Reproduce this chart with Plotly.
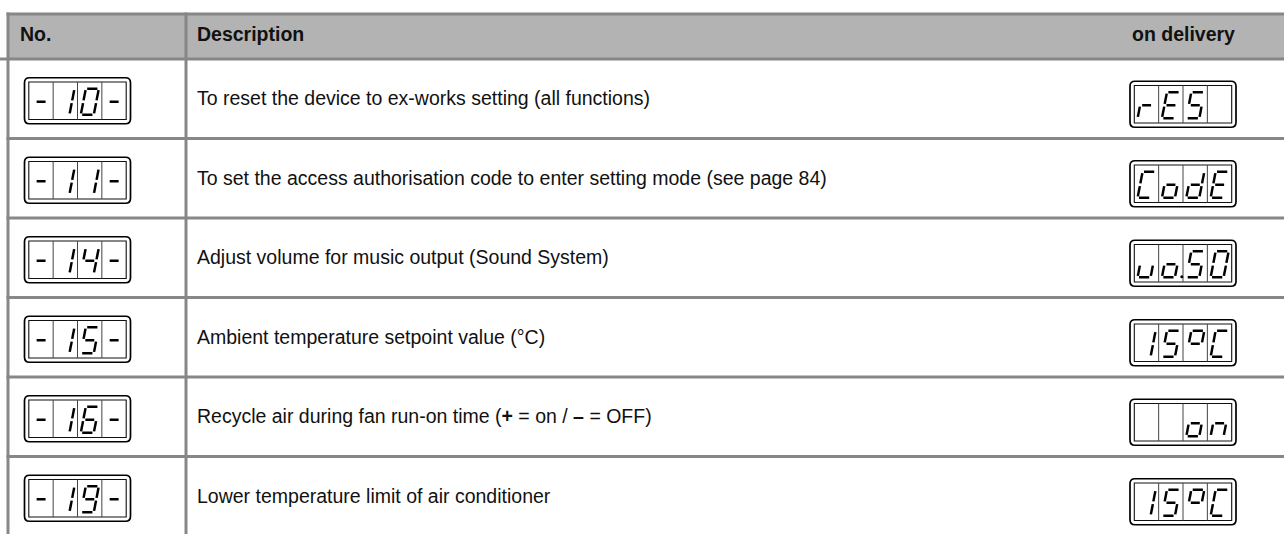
import plotly.graph_objects as go

W, H = 1284, 534

# ---------------- data ----------------
header_labels = ["No.", "Description", "on delivery"]
codes = ["-10-", "-11-", "-14-", "-15-", "-16-", "-19-"]
descriptions = [
    "To reset the device to ex-works setting (all functions)",
    "To set the access authorisation code to enter setting mode (see page 84)",
    "Adjust volume for music output (Sound System)",
    "Ambient temperature setpoint value (°C)",
    "Recycle air during fan run-on time (<b>+</b> = on / <b>–</b> = OFF)",
    "Lower temperature limit of air conditioner",
]
delivery = ["rES ", "CodE", "uo.50", "15°C", "  on", "15°C"]

SEGMENTS = {
    '0': 'abcdef', '1': 'bc', '4': 'bcfg', '5': 'acdfg', '6': 'acdefg', '9': 'abcdfg',
    '-': 'g', 'r': 'eg', 'E': 'adefg', 'S': 'acdfg', 'C': 'adef', 'o': 'cdeg',
    'd': 'bcdeg', 'u': 'cde', '°': 'abfg', 'n': 'ceg', ' ': '',
}

# ---------------- geometry ----------------
TABLE_LEFT = 8
COL_DIV = 186
HEADER_TOP = 14
HEADER_BOT = 59
ROW_H = 79.5
row_bounds = [HEADER_BOT + i * ROW_H for i in range(len(codes) + 1)]
GRID = "#878787"
TXT = "#111111"
FONT = "Liberation Sans, Arial, sans-serif"
FS = 19.5

shapes = []
annotations = []

shapes.append(dict(type="rect", x0=TABLE_LEFT, x1=W + 5, y0=HEADER_TOP, y1=HEADER_BOT,
                   fillcolor="#b3b3b3", line=dict(width=0), layer="below"))


def hline(y, x0, x1):
    shapes.append(dict(type="line", x0=x0, x1=x1, y0=y, y1=y, layer="below",
                       line=dict(color=GRID, width=3)))


def vline(x, y0, y1):
    shapes.append(dict(type="line", x0=x, x1=x, y0=y0, y1=y1, layer="below",
                       line=dict(color=GRID, width=3)))


hline(HEADER_TOP, TABLE_LEFT - 1.5, W + 5)
hline(HEADER_BOT, 0, W + 5)
for yb in row_bounds[1:-1]:
    hline(yb, TABLE_LEFT - 1.5, W + 5)
vline(TABLE_LEFT, HEADER_TOP - 1.5, H + 5)
vline(COL_DIV, HEADER_TOP - 1.5, H + 5)

hdr_y = 33.5
annotations.append(dict(x=18, y=hdr_y, text="<b>%s</b>" % header_labels[0], xanchor="left"))
annotations.append(dict(x=195, y=hdr_y, text="<b>%s</b>" % header_labels[1], xanchor="left"))
annotations.append(dict(x=1183.5, y=hdr_y, text="<b>%s</b>" % header_labels[2], xanchor="center"))

# ---------------- seven segment displays ----------------
seg_x, seg_y = [], []
dot_x, dot_y = [], []

DISP_W, DISP_H, RAD = 106, 46, 5
INSET = 4.3
DIG_H, DIG_W, SLANT, GAP = 26, 13, 5, 1.4


def seg_endpoints(name):
    return {
        'a': ((0, 1), (1, 1)), 'b': ((1, 1), (1, 0.5)), 'c': ((1, 0.5), (1, 0)),
        'd': ((0, 0), (1, 0)), 'e': ((0, 0), (0, 0.5)), 'f': ((0, 0.5), (0, 1)),
        'g': ((0, 0.5), (1, 0.5)),
    }[name]


def add_digit(ch, cell_left, y_bot):
    x0 = cell_left + 3.3
    for s in SEGMENTS.get(ch, ''):
        (u1, v1), (u2, v2) = seg_endpoints(s)
        px1 = x0 + u1 * DIG_W + v1 * SLANT
        py1 = y_bot - v1 * DIG_H
        px2 = x0 + u2 * DIG_W + v2 * SLANT
        py2 = y_bot - v2 * DIG_H
        dx, dy = px2 - px1, py2 - py1
        ln = (dx * dx + dy * dy) ** 0.5
        g = GAP * (1.45 if s == 'g' else 1.0)
        ux, uy = dx / ln, dy / ln
        seg_x.extend([px1 + ux * g, px2 - ux * g, None])
        seg_y.extend([py1 + uy * g, py2 - uy * g, None])


def parse_chars(text):
    chars = []
    for c in text:
        if c == '.' and chars:
            chars[-1] = (chars[-1][0], True)
        else:
            chars.append((c, False))
    return chars


def add_display(cx, cy, text):
    x0, x1 = cx - DISP_W / 2, cx + DISP_W / 2
    y0, y1 = cy - DISP_H / 2, cy + DISP_H / 2
    r = RAD
    path = (f"M {x0 + r},{y0} L {x1 - r},{y0} Q {x1},{y0} {x1},{y0 + r} "
            f"L {x1},{y1 - r} Q {x1},{y1} {x1 - r},{y1} L {x0 + r},{y1} "
            f"Q {x0},{y1} {x0},{y1 - r} L {x0},{y0 + r} Q {x0},{y0} {x0 + r},{y0} Z")
    shapes.append(dict(type="path", path=path, layer="below",
                       line=dict(color="#000", width=1.7), fillcolor="white"))
    ix0, ix1 = x0 + INSET, x1 - INSET
    iy0, iy1 = y0 + INSET, y1 - INSET
    shapes.append(dict(type="rect", x0=ix0, x1=ix1, y0=iy0, y1=iy1, layer="below",
                       line=dict(color="#111", width=1.1)))
    cw = (ix1 - ix0) / 4
    for k in range(1, 4):
        xx = ix0 + k * cw
        shapes.append(dict(type="line", x0=xx, x1=xx, y0=iy0, y1=iy1, layer="below",
                           line=dict(color="#444", width=1)))
    y_bot = (iy0 + iy1) / 2 + DIG_H / 2 + 1
    for k, (ch, dp) in enumerate(parse_chars(text)[:4]):
        cl = ix0 + k * cw
        add_digit(ch, cl, y_bot)
        if dp:
            dot_x.append(cl + cw - 1.2)
            dot_y.append(y_bot - 0.5)


LEFT_CX, RIGHT_CX = 77.5, 1183
for i, (code, desc, dv) in enumerate(zip(codes, descriptions, delivery)):
    rc = (row_bounds[i] + row_bounds[i + 1]) / 2
    add_display(LEFT_CX, rc + 2, code)
    add_display(RIGHT_CX, rc + 5.5, dv)
    annotations.append(dict(x=195, y=rc - 0.5, text=desc, xanchor="left"))

for a in annotations:
    a.update(xref="x", yref="y", yanchor="middle", showarrow=False,
             font=dict(family=FONT, size=FS, color=TXT))

fig = go.Figure()
fig.add_trace(go.Scatter(x=seg_x, y=seg_y, mode="lines",
                         line=dict(color="#000", width=2.5),
                         hoverinfo="skip", showlegend=False))
fig.add_trace(go.Scatter(x=dot_x, y=dot_y, mode="markers",
                         marker=dict(color="#000", size=3),
                         hoverinfo="skip", showlegend=False))

fig.update_layout(
    width=W, height=H, autosize=False,
    margin=dict(l=0, r=0, t=0, b=0),
    paper_bgcolor="white", plot_bgcolor="white",
    xaxis=dict(range=[0, W], visible=False, fixedrange=True),
    yaxis=dict(range=[H, 0], visible=False, fixedrange=True),
    shapes=shapes, annotations=annotations,
    showlegend=False,
)
fig.write_html("out.html", config={"displayModeBar": False},
               post_script="document.body.style.margin='0px';document.body.style.overflow='hidden';")
